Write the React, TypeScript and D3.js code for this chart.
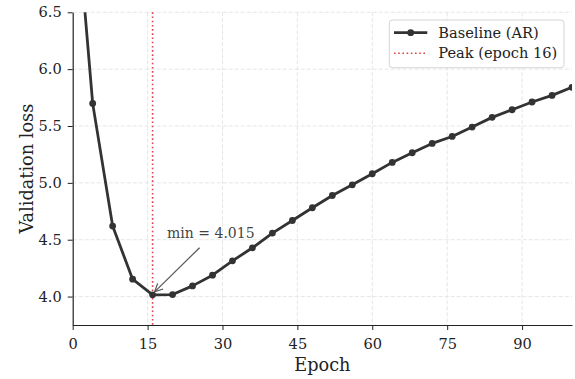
import React, { useEffect, useRef } from 'react';
import * as d3 from 'd3';

// validation loss logged every 4 epochs
const epochs = [0, 4, 8, 12, 16, 20, 24, 28, 32, 36, 40, 44, 48, 52, 56, 60, 64, 68, 72, 76, 80, 84, 88, 92, 96, 100];
const losses = [7.78, 5.699, 4.62, 4.153, 4.015, 4.018, 4.094, 4.188, 4.314, 4.429, 4.558, 4.669, 4.781, 4.889,
  4.983, 5.08, 5.18, 5.265, 5.347, 5.408, 5.491, 5.576, 5.643, 5.711, 5.769, 5.84];
const xTicks = [0, 15, 30, 45, 60, 75, 90];
const yTicks = [4.0, 4.5, 5.0, 5.5, 6.0, 6.5];
const peakEpoch = 16;
const minLoss = 4.015;

const FONT = "'DejaVu Serif', serif";

const App = () => {
  const svgRef = useRef<SVGSVGElement>(null);

  useEffect(() => {
    const W = 575, H = 379;
    const margin = { top: 12.3, right: 3, bottom: 54, left: 72.7 };
    const width = W - margin.left - margin.right;
    const height = H - margin.top - margin.bottom;

    const svg = d3.select(svgRef.current);
    svg.selectAll("*").remove();

    const x = d3.scaleLinear().domain([0, 100]).range([0, width]);
    const y = d3.scaleLinear().domain([3.75, 6.5]).range([height, 0]);

    const g = svg.append("g").attr("transform", `translate(${margin.left},${margin.top})`);

    svg.append("defs").append("clipPath").attr("id", "plot-clip")
      .append("rect").attr("x", 0).attr("y", 0).attr("width", width).attr("height", height);

    // grid
    g.append("g").selectAll("line").data(xTicks.filter(d => d > 0)).join("line")
      .attr("x1", d => x(d)).attr("x2", d => x(d)).attr("y1", 0).attr("y2", height)
      .attr("stroke", "#e3e3e3").attr("stroke-width", 0.9).attr("stroke-dasharray", "4,2");
    g.append("g").selectAll("line").data(yTicks).join("line")
      .attr("x1", 0).attr("x2", width).attr("y1", d => y(d)).attr("y2", d => y(d))
      .attr("stroke", "#e3e3e3").attr("stroke-width", 0.9).attr("stroke-dasharray", "4,2");

    // axes
    const xAxis = g.append("g")
      .attr("transform", `translate(0,${height})`)
      .call(d3.axisBottom(x).tickValues(xTicks).tickFormat(d3.format("d")).tickSizeInner(5).tickSizeOuter(0).tickPadding(8.5));
    const yAxis = g.append("g")
      .call(d3.axisLeft(y).tickValues(yTicks).tickFormat(d3.format(".1f")).tickSizeInner(5).tickSizeOuter(0).tickPadding(6));
    [xAxis, yAxis].forEach(a => {
      a.select(".domain").attr("stroke", "#222").attr("stroke-width", 1.2);
      a.selectAll(".tick line").attr("stroke", "#222").attr("stroke-width", 1);
      a.selectAll(".tick text").attr("fill", "#222").style("font-family", FONT).style("font-size", "14.6px");
    });

    // peak marker
    g.append("line")
      .attr("x1", x(peakEpoch)).attr("x2", x(peakEpoch)).attr("y1", 0).attr("y2", height)
      .attr("stroke", "#e8404a").attr("stroke-width", 1.6).attr("stroke-dasharray", "1.6,2.6");

    // series
    const pts = epochs.map((e, i) => [e, losses[i]] as [number, number]);
    const series = g.append("g").attr("clip-path", "url(#plot-clip)");
    series.append("path").datum(pts)
      .attr("fill", "none").attr("stroke", "#333").attr("stroke-width", 2.8).attr("stroke-linejoin", "round")
      .attr("d", d3.line().x(d => x(d[0])).y(d => y(d[1])));
    series.selectAll("circle").data(pts).join("circle")
      .attr("cx", d => x(d[0])).attr("cy", d => y(d[1])).attr("r", 3.4).attr("fill", "#333");

    // annotation
    g.append("text").attr("x", x(peakEpoch) + 14.5).attr("y", y(4.5) - 1.8)
      .style("font-family", FONT).style("font-size", "14px").attr("fill", "#444")
      .text(`min = ${minLoss.toFixed(3)}`);
    const ax0 = x(peakEpoch) + 47, ay0 = y(4.5) + 8;
    const ax1 = x(peakEpoch) + 2, ay1 = y(minLoss) - 3;
    g.append("line").attr("x1", ax0).attr("y1", ay0).attr("x2", ax1).attr("y2", ay1)
      .attr("stroke", "#555").attr("stroke-width", 1.2);
    const ang = Math.atan2(ay0 - ay1, ax0 - ax1);
    const hl = 9, hw = 0.45;
    g.append("path")
      .attr("d", `M${ax1 + hl * Math.cos(ang - hw)},${ay1 + hl * Math.sin(ang - hw)} L${ax1},${ay1} L${ax1 + hl * Math.cos(ang + hw)},${ay1 + hl * Math.sin(ang + hw)}`)
      .attr("fill", "none").attr("stroke", "#555").attr("stroke-width", 1.2);

    // axis labels
    svg.append("text").attr("x", margin.left + width / 2).attr("y", 371.3)
      .attr("text-anchor", "middle").style("font-family", FONT).style("font-size", "17.7px").attr("fill", "#222")
      .text("Epoch");
    svg.append("text").attr("transform", `translate(32.5,${margin.top + height / 2}) rotate(-90)`)
      .attr("text-anchor", "middle").style("font-family", FONT).style("font-size", "17.7px").attr("fill", "#222")
      .text("Validation loss");

    // legend
    const lg = svg.append("g").attr("transform", "translate(389.3,20)");
    lg.append("rect").attr("width", 174.7).attr("height", 47.7).attr("rx", 3)
      .attr("fill", "white").attr("fill-opacity", 0.85).attr("stroke", "#d0d0d0").attr("stroke-width", 0.9);
    lg.append("line").attr("x1", 4.7).attr("x2", 38).attr("y1", 12.7).attr("y2", 12.7)
      .attr("stroke", "#333").attr("stroke-width", 2.8);
    lg.append("circle").attr("cx", 21.4).attr("cy", 12.7).attr("r", 3.4).attr("fill", "#333");
    lg.append("line").attr("x1", 4.7).attr("x2", 38).attr("y1", 33.3).attr("y2", 33.3)
      .attr("stroke", "#e8404a").attr("stroke-width", 1.6).attr("stroke-dasharray", "1.6,2.6");
    lg.append("text").attr("x", 49).attr("y", 17.6).style("font-family", FONT).style("font-size", "14.6px")
      .attr("fill", "#222").text("Baseline (AR)");
    lg.append("text").attr("x", 49).attr("y", 38.3).style("font-family", FONT).style("font-size", "14.6px")
      .attr("fill", "#222").text(`Peak (epoch ${peakEpoch})`);
  }, []);

  return (
    <svg ref={svgRef} width={575} height={379}
      style={{ position: 'absolute', left: 0, top: 0, background: '#fff' }}></svg>
  );
};

export default App;
